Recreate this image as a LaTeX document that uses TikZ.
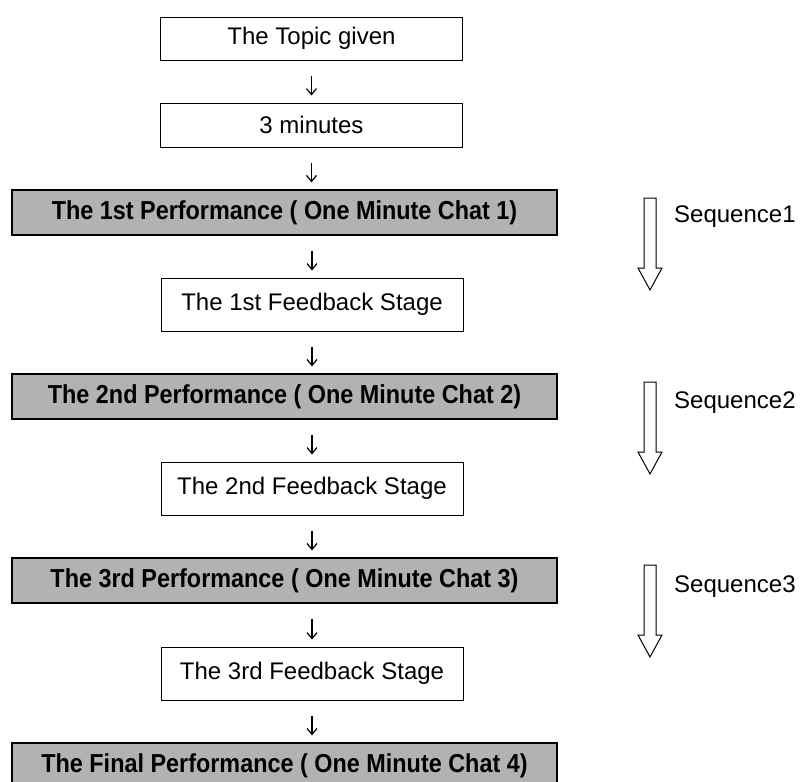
\documentclass[tikz,border=0pt]{standalone}
\usepackage{fontspec}
\setmainfont{Liberation Sans}
\newfontfamily\perffont[FakeStretch=0.9]{Liberation Sans}
\usetikzlibrary{arrows.meta,positioning}

\definecolor{halftone}{gray}{0.70}

\tikzset{
  stagebox/.style={draw, line width=1pt, inner sep=0pt, minimum width=302pt,
    font=\fontsize{24}{28}\selectfont},
  perfbox/.style={draw, line width=1.3pt, fill=halftone, inner sep=0pt,
    minimum width=545pt, minimum height=45pt,
    font=\perffont\fontsize{26}{30}\selectfont\bfseries},
  down/.style={line width=1.2pt, -{Straight Barb[length=6pt,width=10pt]},
    shorten <=15pt, shorten >=7pt},
  seqarrow/.style={line width=1pt, line join=miter},
  seqlabel/.style={anchor=west, inner sep=0pt, font=\fontsize{24}{28}\selectfont}
}

\begin{document}
\begin{tikzpicture}[x=1pt,y=-1pt]
        \clip (0,0) rectangle (807,782);

        % upper boxes
        \node[stagebox, minimum height=43pt] (topic) at (311.5,38.5) {The Topic given};
        \node[stagebox, minimum height=44pt] (mins) at (311.5,125) {3 minutes};

        % performances and feedback
        \node[perfbox] (perf1) at (284.5,212.5) {The 1st Performance ( One Minute Chat 1)};
        \node[stagebox, minimum height=53pt] (fb1) at (312,304.5) {The 1st Feedback Stage};
        \node[perfbox] (perf2) at (284.5,396.5) {The 2nd Performance ( One Minute Chat 2)};
        \node[stagebox, minimum height=53pt] (fb2) at (312,488.5) {The 2nd Feedback Stage};
        \node[perfbox] (perf3) at (284.5,580.5) {The 3rd Performance ( One Minute Chat 3)};
        \node[stagebox, minimum height=53pt] (fb3) at (312,673.5) {The 3rd Feedback Stage};
        \node[perfbox] (perf4) at (284.5,765.5) {The Final Performance ( One Minute Chat 4)};

        % small arrows
        \draw[down] (topic.south) -- (mins.north);
        \draw[down] (mins.south) -- (mins.south |- perf1.north);
        \draw[down] (fb1.north |- perf1.south) -- (fb1.north);
        \draw[down] (fb1.south) -- (fb1.south |- perf2.north);
        \draw[down] (fb2.north |- perf2.south) -- (fb2.north);
        \draw[down] (fb2.south) -- (fb2.south |- perf3.north);
        \draw[down] (fb3.north |- perf3.south) -- (fb3.north);
        \draw[down] (fb3.south) -- (fb3.south |- perf4.north);

        % sequences
        \coordinate (s1) at (650,198);
        \coordinate (s2) at (650,382);
        \coordinate (s3) at (650,565);
        \foreach \s in {s1,s2,s3}
          \draw[seqarrow] (\s) ++(-6,0) -- ++(12,0) -- ++(0,70) -- ++(6,0)
            -- ++(-12,22) -- ++(-12,-22) -- ++(6,0) -- cycle;
        \node[seqlabel] (q1) at (674,217) {Sequence1};
        \node[seqlabel] (q2) at (674,403) {Sequence2};
        \node[seqlabel] (q3) at (674,587) {Sequence3};

      \end{tikzpicture}
\end{document}
